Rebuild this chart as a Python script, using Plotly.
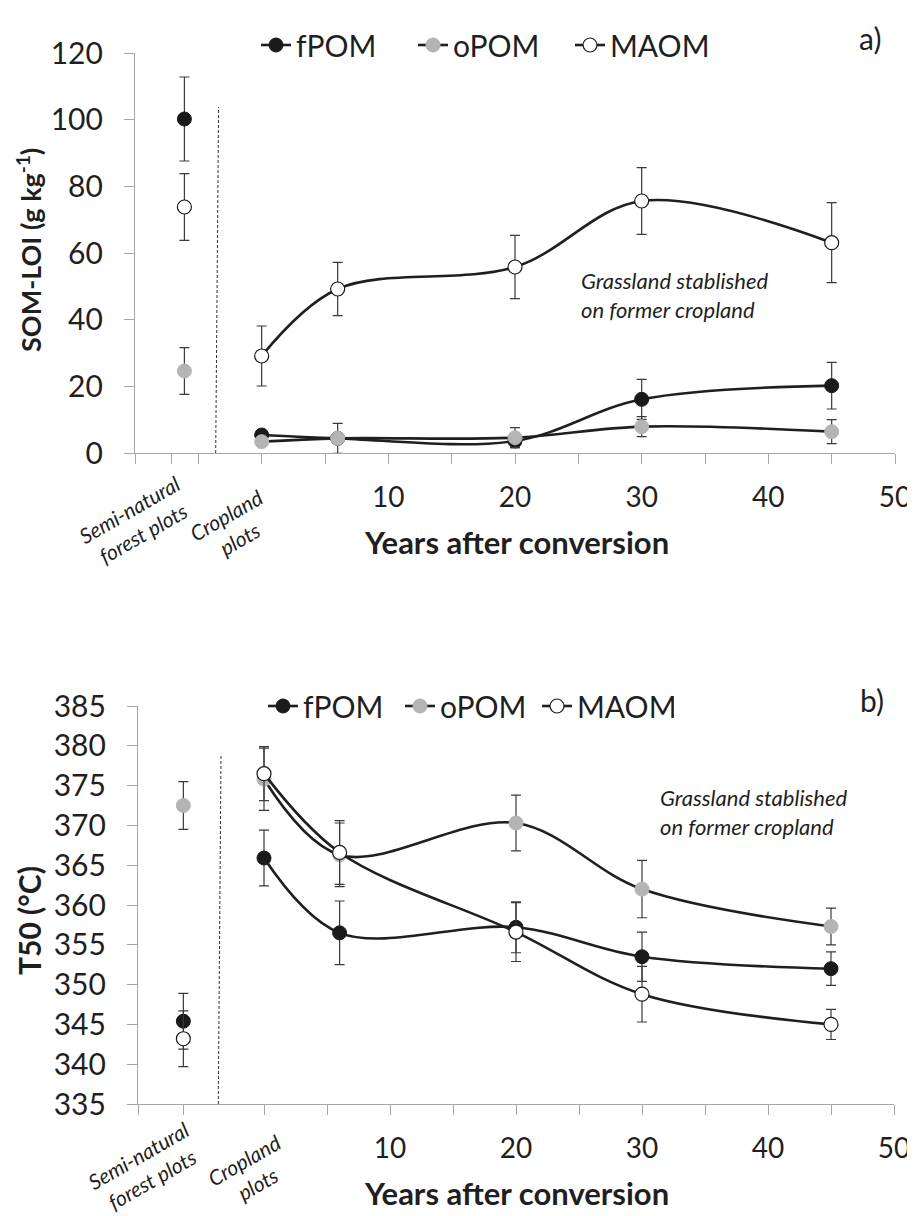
import plotly.graph_objects as go

# ---------------- data ----------------
series = ["fPOM", "oPOM", "MAOM"]
years = [0, 6, 20, 30, 45]
forest_x_a = -6.1
forest_x_b = -6.4

# panel a: SOM-LOI (g kg-1)
a_forest = [100.2, 24.6, 73.8]
a_forest_err = [12.6, 7.0, 10.0]
a_fpom = [5.4, 4.4, 3.6, 16.1, 20.2]
a_fpom_err = [1.0, 1.5, 2.0, 6.0, 7.0]
a_opom = [3.4, 4.4, 4.6, 7.9, 6.4]
a_opom_err = [1.0, 4.5, 3.0, 3.0, 3.6]
a_maom = [29.1, 49.2, 55.8, 75.6, 63.1]
a_maom_err = [9.0, 8.0, 9.5, 10.0, 12.0]

# panel b: T50 (°C)
b_forest = [345.4, 372.5, 343.2]
b_forest_err = [3.5, 3.0, 3.5]
b_fpom = [365.9, 356.5, 357.2, 353.5, 352.0]
b_fpom_err = [3.5, 4.0, 3.2, 3.1, 2.1]
b_opom = [375.8, 366.3, 370.3, 362.0, 357.3]
b_opom_err = [3.9, 4.0, 3.5, 3.6, 2.3]
b_maom = [376.5, 366.6, 356.6, 348.8, 345.0]
b_maom_err = [3.4, 4.0, 3.7, 3.5, 1.9]

x_tick_labels = ["10", "20", "30", "40", "50"]
cat_forest = "Semi-natural<br>forest plots"
cat_crop = "Cropland<br>plots"
note = "Grassland stablished<br>on former cropland"

# ---------------- style ----------------
W, H = 915, 1216
OFF = 8  # page body margin offset
FONT = "Lato"
INK = "#1f1f1f"
AXC = "#a6a6a6"
styles = {
    "fPOM": dict(color="#1a1a1a", line=dict(color="#1a1a1a", width=1)),
    "oPOM": dict(color="#b4b4b7", line=dict(color="#b4b4b7", width=1)),
    "MAOM": dict(color="#ffffff", line=dict(color="#1a1a1a", width=1.2)),
}

def px_x(p):
    return (p - OFF) / W

def px_y(p):
    return 1 - (p - OFF) / H

fig = go.Figure()

def add_panel(xa, ya, legend, fx, forest, forest_err, vals, errs):
    for i, name in enumerate(series):
        m = dict(size=14, **styles[name])
        err = dict(type="data", array=errs[i], color="#3a3a3a", thickness=1.2, width=5)
        fig.add_trace(go.Scatter(
            x=years, y=vals[i], name=name, mode="lines+markers",
            line=dict(color=INK, width=2.6, shape="spline", smoothing=1.0),
            marker=m, error_y=err, xaxis=xa, yaxis=ya, legend=legend,
            showlegend=True, hoverinfo="x+y"))
        fig.add_trace(go.Scatter(
            x=[fx], y=[forest[i]], name=name, mode="markers",
            marker=m,
            error_y=dict(type="data", array=[forest_err[i]], color="#3a3a3a", thickness=1.2, width=5),
            xaxis=xa, yaxis=ya, showlegend=False))

add_panel("x", "y", "legend", forest_x_a, a_forest, a_forest_err,
          [a_fpom, a_opom, a_maom], [a_fpom_err, a_opom_err, a_maom_err])
add_panel("x2", "y2", "legend2", forest_x_b, b_forest, b_forest_err,
          [b_fpom, b_opom, b_maom], [b_fpom_err, b_opom_err, b_maom_err])

tick_a = [-10, -7.1, -5, 0, 5, 10, 15, 20, 25, 30, 35, 40, 45, 50]
tick_b = [-10, -6.4, 0, 5, 10, 15, 20, 25, 30, 35, 40, 45, 50]

def tick_text(vals):
    out = []
    for v in vals:
        s = str(int(v)) if float(v).is_integer() else ""
        out.append(s if s in x_tick_labels else "")
    return out

xcommon = dict(range=[-10, 50], showgrid=False, zeroline=False, showline=True,
               linecolor=AXC, linewidth=1.3, ticks="outside", ticklen=10,
               tickcolor=AXC, tickwidth=1.3, tickmode="array",
               tickfont=dict(family=FONT, size=28, color=INK), ticklabelstandoff=9)
ycommon = dict(showgrid=False, zeroline=False, showline=True, linecolor=AXC,
               linewidth=1.3, ticks="outside", ticklen=10, tickcolor=AXC,
               tickwidth=1.3, tickfont=dict(family=FONT, size=30, color=INK),
               ticklabelstandoff=15)

fig.update_layout(
    width=W, height=H, margin=dict(l=0, r=0, t=0, b=0, autoexpand=False),
    paper_bgcolor="white", plot_bgcolor="white",
    font=dict(family=FONT, color=INK),
    xaxis=dict(domain=[px_x(135), px_x(895)], anchor="y",
               tickvals=tick_a, ticktext=tick_text(tick_a), **xcommon),
    yaxis=dict(domain=[px_y(453), px_y(53)], anchor="x", range=[0, 120],
               dtick=20, tick0=0, **ycommon),
    xaxis2=dict(domain=[px_x(138), px_x(894)], anchor="y2",
                tickvals=tick_b, ticktext=tick_text(tick_b), **xcommon),
    yaxis2=dict(domain=[px_y(1104), px_y(706)], anchor="x2", range=[335, 385],
                dtick=5, tick0=335, **ycommon),
    legend=dict(orientation="h", x=px_x(256), y=px_y(45), xanchor="left",
                yanchor="middle", font=dict(family=FONT, size=30, color=INK),
                entrywidth=112, entrywidthmode="pixels", bgcolor="rgba(0,0,0,0)",
                itemclick=False),
    legend2=dict(orientation="h", x=px_x(263), y=px_y(706), xanchor="left",
                 yanchor="middle", font=dict(family=FONT, size=30, color=INK),
                 entrywidth=92, entrywidthmode="pixels", bgcolor="rgba(0,0,0,0)",
                 itemclick=False),
    showlegend=True,
)

# dashed separators
fig.add_shape(type="line", xref="x", yref="y", x0=-3.63, y0=0, x1=-3.40, y1=103.8,
              line=dict(color="#333333", width=1, dash="3px,2px"))
fig.add_shape(type="line", xref="x2", yref="y2", x0=-3.63, y0=335, x1=-3.41, y1=379,
              line=dict(color="#333333", width=1, dash="3px,2px"))

def ann(x, y, text, size, xanchor="center", yanchor="middle", **kw):
    fig.add_annotation(x=px_x(x), y=px_y(y), xref="paper", yref="paper", text=text,
                       showarrow=False, font=dict(family=FONT, size=size, color=INK),
                       xanchor=xanchor, yanchor=yanchor, **kw)

# panel labels
ann(870, 38, "a)", 30)
ann(872, 700, "b)", 30)
# axis titles
ann(29, 250, "<b>SOM-LOI (g kg<sup>-1</sup>)</b>", 27, textangle=-90)
ann(29, 921, "<b>T50 (°C)</b>", 30, textangle=-90)
ann(516, 542, "<b>Years after conversion</b>", 31)
ann(516, 1193, "<b>Years after conversion</b>", 31)
# category labels
ann(136, 521, "<i>" + cat_forest + "</i>", 21, textangle=-30)
ann(232, 527, "<i>" + cat_crop + "</i>", 21, textangle=-30)
ann(145, 1167, "<i>" + cat_forest + "</i>", 21, textangle=-30)
ann(250, 1172, "<i>" + cat_crop + "</i>", 21, textangle=-30)
# notes
ann(579, 295, "<i>" + note + "</i>", 22, xanchor="left", align="left")
ann(658, 812, "<i>" + note + "</i>", 22, xanchor="left", align="left")

fig.write_html("out.html")
